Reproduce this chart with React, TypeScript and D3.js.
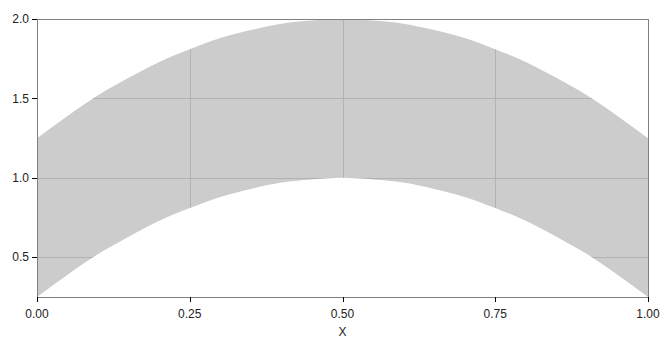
import React from "react";
import * as d3 from "d3";

const xValues = [0, 0.05, 0.1, 0.15, 0.2, 0.25, 0.3, 0.35, 0.4, 0.45, 0.5, 0.55, 0.6, 0.65, 0.7, 0.75, 0.8, 0.85, 0.9, 0.95, 1];
const lowerValues = [0.25, 0.39, 0.52, 0.63, 0.73, 0.81, 0.88, 0.93, 0.97, 0.99, 1.0, 0.99, 0.97, 0.93, 0.88, 0.81, 0.73, 0.63, 0.52, 0.39, 0.25];
const upperValues = [1.25, 1.39, 1.52, 1.63, 1.73, 1.81, 1.88, 1.93, 1.97, 1.99, 2.0, 1.99, 1.97, 1.93, 1.88, 1.81, 1.73, 1.63, 1.52, 1.39, 1.25];
const xTicks = [0, 0.25, 0.5, 0.75, 1];
const yTicks = [0.5, 1.0, 1.5, 2.0];
const xLabel = "X";

export default function App() {
  const W = 668, H = 350;
  const left = 37, right = 648, top = 19, bottom = 297;
  const x = d3.scaleLinear().domain([0, 1]).range([left, right]);
  const y = d3.scaleLinear().domain([0.25, 2.0]).range([bottom, top]);
  const data = xValues.map((v, i) => ({ x: v, lo: lowerValues[i], hi: upperValues[i] }));
  const area = d3
    .area<{ x: number; lo: number; hi: number }>()
    .x((d) => x(d.x))
    .y0((d) => y(d.lo))
    .y1((d) => y(d.hi))
    .curve(d3.curveMonotoneX);
  const areaPath = area(data) || "";
  const font = "'Liberation Sans', Arial, sans-serif";
  return (
    <svg width={W} height={H} style={{ position: "absolute", left: 0, top: 0, background: "#fff" }}>
      <defs>
        <clipPath id="areaClip">
          <path d={areaPath} />
        </clipPath>
      </defs>
      <path d={areaPath} fill="#cccccc" />
      <g clipPath="url(#areaClip)" stroke="#b2b2b2" strokeWidth={1}>
        {xTicks.map((t) => (
          <line key={"gx" + t} x1={Math.round(x(t)) + 0.5} x2={Math.round(x(t)) + 0.5} y1={top} y2={bottom} />
        ))}
        {yTicks.map((t) => (
          <line key={"gy" + t} x1={left} x2={right} y1={Math.round(y(t)) + 0.5} y2={Math.round(y(t)) + 0.5} />
        ))}
      </g>
      <rect x={left + 0.5} y={top + 0.5} width={right - left} height={bottom - top} fill="none" stroke="#808080" strokeWidth={1} />
      {yTicks.map((t) => (
        <g key={"yt" + t}>
          <line x1={left - 5} x2={left} y1={Math.round(y(t)) + 0.5} y2={Math.round(y(t)) + 0.5} stroke="#000" />
          <text x={left - 8} y={y(t)} dy="0.35em" textAnchor="end" fontSize={12} fontFamily={font} fill="#222">
            {t.toFixed(1)}
          </text>
        </g>
      ))}
      {xTicks.map((t) => (
        <g key={"xt" + t}>
          <line x1={Math.round(x(t)) + 0.5} x2={Math.round(x(t)) + 0.5} y1={bottom} y2={bottom + 5} stroke="#000" />
          <text x={x(t)} y={bottom + 17} dy="0.35em" textAnchor="middle" fontSize={12} fontFamily={font} fill="#222">
            {t.toFixed(2)}
          </text>
        </g>
      ))}
      <text x={(left + right) / 2} y={bottom + 35} dy="0.35em" textAnchor="middle" fontSize={12} fontFamily={font} fill="#222">
        {xLabel}
      </text>
    </svg>
  );
}
